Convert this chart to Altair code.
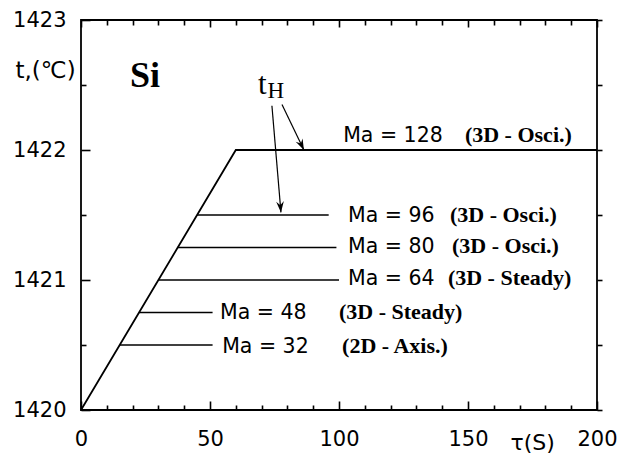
import math
import altair as alt
import pandas as pd

# ---- data ----
# main heating curve: linear ramp then plateau (Ma = 128)
ramp_time = [0, 60, 200]
ramp_temp = [1420, 1422, 1422]

# holding plateaus for the other Marangoni numbers
seg_ma = [32, 48, 64, 80, 96]
seg_temp = [1420.5, 1420.75, 1421.0, 1421.25, 1421.5]
seg_start = [15, 22.5, 30, 37.5, 45]
seg_end = [51, 51, 100, 99, 96]

# annotations
label_ma = ["Ma = 128", "Ma = 96", "Ma = 80", "Ma = 64", "Ma = 48", "Ma = 32"]
label_x = [101.6, 103.5, 103.5, 103.5, 53.9, 54.7]
label_y = [1422.06, 1421.45, 1421.21, 1420.96, 1420.70, 1420.44]
mode_text = ["(3D - Osci.)", "(3D - Osci.)", "(3D - Osci.)",
             "(3D - Steady)", "(3D - Steady)", "(2D - Axis.)"]
mode_x = [148.8, 143.0, 143.8, 142.2, 100.0, 101.2]

si_x, si_y = [19], [1422.485]
t_x, t_y = [68.6], [1422.43]
h_x, h_y = [72.3], [1422.40]

arrow_x = [74.0, 77.9]
arrow_y = [1422.34, 1422.35]
arrow_x2 = [77.5, 86.4]
arrow_y2 = [1421.52, 1422.0]

x_major = [0, 50, 100, 150, 200]
x_minor = [10, 20, 30, 40, 60, 70, 80, 90, 110, 120, 130, 140, 160, 170, 180, 190]
y_major = [1420, 1421, 1422, 1423]
y_minor = [1420.5, 1421.5, 1422.5]
y_all = [1420, 1420.5, 1421, 1421.5, 1422, 1422.5, 1423]

# ---- layout ----
W, H = 516, 390
SANS = "DejaVu Sans"
SERIF = "Liberation Serif"

xs = alt.Scale(domain=[0, 200], nice=False, zero=False)
ys = alt.Scale(domain=[1420, 1423], nice=False, zero=False)

ramp_df = pd.DataFrame({"t": ramp_time, "temp": ramp_temp})
seg_df = pd.DataFrame({"ma": seg_ma, "t0": seg_start, "t1": seg_end, "temp": seg_temp})
lab_df = pd.DataFrame({"ma": label_ma, "x": label_x, "y": label_y,
                       "mode": mode_text, "mx": mode_x})

ang = []
for x0, y0, x1, y1 in zip(arrow_x, arrow_y, arrow_x2, arrow_y2):
    dx = (x1 - x0) * W / 200.0
    dy = (y0 - y1) * H / 3.0
    ang.append((-math.degrees(math.atan2(dx, dy))) % 360)
arr_df = pd.DataFrame({"x": arrow_x, "y": arrow_y, "x2": arrow_x2,
                       "y2": arrow_y2, "ang": ang})


def tick_axis(orient, values, size):
    # negative sizes (inward ticks) go through an expression
    ts = alt.ExprRef(str(size)) if size < 0 else size
    return alt.Axis(orient=orient, values=values, tickSize=ts,
                    labels=False, domain=False, grid=False, title=None,
                    ticks=True, tickColor="black", tickWidth=1.6)


def axis_layer(xaxis, yaxis):
    return alt.Chart(ramp_df).mark_point(opacity=0).encode(
        x=alt.X("t:Q", scale=xs, axis=xaxis),
        y=alt.Y("temp:Q", scale=ys, axis=yaxis),
    )


label_axes = axis_layer(
    alt.Axis(orient="bottom", values=x_major, ticks=False, domain=False, grid=False,
             format="d", labelFlush=False,
             labelFont=SANS, labelFontSize=21, labelPadding=18, labelColor="black",
             title="τ(S)", titleFont=SANS, titleFontSize=22, titleFontWeight="normal",
             titleColor="black", titleX=429, titleY=39, titleAlign="left",
             titleBaseline="alphabetic"),
    alt.Axis(orient="left", values=y_major, ticks=False, domain=False, grid=False,
             format="d", labelFlush=False,
             labelFont=SANS, labelFontSize=21, labelPadding=15, labelColor="black",
             title="t,(℃)", titleFont=SANS, titleFontSize=23, titleFontWeight="normal",
             titleColor="black", titleAngle=0, titleX=-66, titleY=57,
             titleAlign="left", titleBaseline="alphabetic"),
)
major_in = axis_layer(tick_axis("bottom", x_major, -9), tick_axis("left", y_major, -9))
minor_in = axis_layer(tick_axis("bottom", x_minor, -5), tick_axis("left", y_minor, -5))
top_minor = axis_layer(tick_axis("top", x_minor, -5), tick_axis("right", y_all, 5))
top_major = axis_layer(tick_axis("top", x_major, -7), None)

curve = alt.Chart(ramp_df).mark_line(color="black", strokeWidth=1.8).encode(
    x=alt.X("t:Q", scale=xs, axis=None),
    y=alt.Y("temp:Q", scale=ys, axis=None),
)
plateaus = alt.Chart(seg_df).mark_rule(color="black", strokeWidth=1.6).encode(
    x=alt.X("t0:Q", scale=xs, axis=None),
    x2="t1:Q",
    y=alt.Y("temp:Q", scale=ys, axis=None),
)
ma_text = alt.Chart(lab_df).mark_text(
    align="left", baseline="alphabetic", font=SANS, fontSize=20.5, color="black"
).encode(
    x=alt.X("x:Q", scale=xs, axis=None),
    y=alt.Y("y:Q", scale=ys, axis=None),
    text="ma:N",
)
mode_lab = alt.Chart(lab_df).mark_text(
    align="left", baseline="alphabetic", font=SERIF, fontSize=22,
    fontWeight="bold", color="black"
).encode(
    x=alt.X("mx:Q", scale=xs, axis=None),
    y=alt.Y("y:Q", scale=ys, axis=None),
    text="mode:N",
)
si = alt.Chart(pd.DataFrame({"x": si_x, "y": si_y, "s": ["Si"]})).mark_text(
    align="left", baseline="alphabetic", font=SERIF, fontSize=36,
    fontWeight="bold", color="black"
).encode(x=alt.X("x:Q", scale=xs, axis=None), y=alt.Y("y:Q", scale=ys, axis=None), text="s:N")
t_lab = alt.Chart(pd.DataFrame({"x": t_x, "y": t_y, "s": ["t"]})).mark_text(
    align="left", baseline="alphabetic", font=SERIF, fontSize=31, color="black"
).encode(x=alt.X("x:Q", scale=xs, axis=None), y=alt.Y("y:Q", scale=ys, axis=None), text="s:N")
h_lab = alt.Chart(pd.DataFrame({"x": h_x, "y": h_y, "s": ["H"]})).mark_text(
    align="left", baseline="alphabetic", font=SERIF, fontSize=23, color="black"
).encode(x=alt.X("x:Q", scale=xs, axis=None), y=alt.Y("y:Q", scale=ys, axis=None), text="s:N")

arrows = alt.Chart(arr_df).mark_rule(color="black", strokeWidth=1.2).encode(
    x=alt.X("x:Q", scale=xs, axis=None), x2="x2:Q",
    y=alt.Y("y:Q", scale=ys, axis=None), y2="y2:Q",
)
heads = alt.Chart(arr_df).mark_point(
    shape="M0,0L-0.7,-2L0,-1.3L0.7,-2Z", filled=True, color="black",
    size=121, opacity=1
).encode(
    x=alt.X("x2:Q", scale=xs, axis=None),
    y=alt.Y("y2:Q", scale=ys, axis=None),
    angle=alt.Angle("ang:Q", scale=None),
)

chart = alt.layer(
    label_axes, major_in, minor_in, top_minor, top_major,
    curve, plateaus, arrows, heads, ma_text, mode_lab, si, t_lab, h_lab,
).resolve_axis(x="independent", y="independent").properties(
    width=W, height=H, autosize="none",
    padding={"left": 73, "top": 12, "right": 25, "bottom": 44},
).configure_view(stroke="black", strokeWidth=1.8)

chart.save("out.html", embed_options={"renderer": "svg", "actions": False})
